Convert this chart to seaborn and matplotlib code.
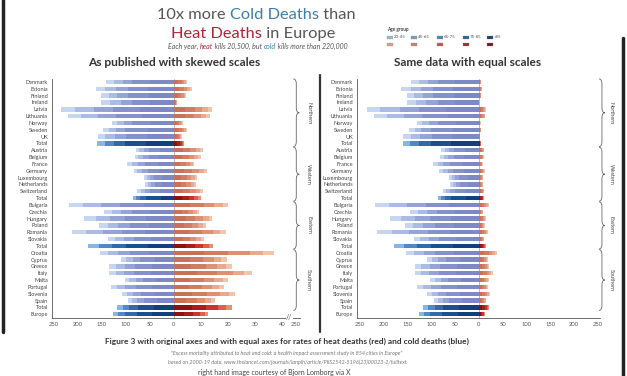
import numpy as np
import pandas as pd
import matplotlib
matplotlib.use("Agg")
import matplotlib.pyplot as plt
import matplotlib.transforms as mtransforms
from matplotlib.path import Path
from matplotlib.patches import PathPatch, Rectangle
from matplotlib.lines import Line2D
import seaborn as sns

# Data (rates per 100,000)
names = ["Denmark", "Estonia", "Finland", "Ireland", "Latvia", "Lithuania", "Norway", "Sweden", "UK", "Total",
         "Austria", "Belgium", "France", "Germany", "Luxembourg", "Netherlands", "Switzerland", "Total",
         "Bulgaria", "Czechia", "Hungary", "Poland", "Romania", "Slovakia", "Total",
         "Croatia", "Cyprus", "Greece", "Italy", "Malta", "Portugal", "Slovenia", "Spain", "Total",
         "Europe"]
region_names = ["Northern", "Western", "Eastern", "Southern"]
region_sizes = [10, 8, 7, 9]
total_rows = [9, 17, 24, 33, 34]
age_groups = ["20-45", "45-65", "65-75", "75-85", ">85"]

# cold deaths, one list per age group
cold_85plus = [50, 55, 52, 50, 70, 66, 48, 55, 56, 58, 30, 31, 34, 31, 24, 24, 29, 28,
               62, 50, 58, 52, 60, 48, 55, 52, 40, 46, 48, 38, 46, 40, 36, 42, 45]
cold_75_85 = [37, 41, 44, 37, 56, 54, 39, 46, 43, 43, 22, 22, 26, 23, 17, 16, 21, 31,
              50, 38, 44, 40, 48, 36, 45, 40, 30, 36, 36, 26, 34, 29, 26, 33, 33]
cold_65_75 = [20, 25, 22, 24, 40, 38, 18, 20, 24, 24, 11, 12, 15, 12, 9, 8, 11, 12,
              40, 22, 32, 25, 39, 21, 30, 24, 16, 21, 20, 16, 21, 16, 14, 18, 25]
cold_45_65 = [18, 22, 18, 22, 41, 35, 14, 14, 20, 19, 9, 9, 12, 10, 7, 7, 8, 8,
              37, 19, 29, 21, 36, 18, 27, 21, 13, 18, 17, 13, 17, 13, 11, 14, 13]
cold_20_45 = [17, 20, 15, 18, 29, 28, 11, 12, 16, 16, 7, 7, 10, 7, 6, 5, 7, 6,
              30, 16, 24, 18, 30, 14, 21, 17, 11, 14, 14, 10, 13, 11, 8, 11, 10]

# heat deaths, one list per age group
heat_85plus = [1.6, 2.0, 1.5, 0.4, 4.2, 4.0, 1.1, 1.6, 1.0, 1.3, 3.3, 3.0, 2.4, 3.7, 2.6, 2.5, 3.2, 3.0,
               6.0, 2.8, 4.3, 3.6, 5.7, 3.3, 4.3, 11, 5.9, 6.4, 8.7, 6.0, 5.6, 6.8, 4.6, 6.5, 3.8]
heat_75_85 = [1.2, 1.6, 1.2, 0.3, 3.5, 3.3, 0.8, 1.2, 0.7, 0.9, 2.7, 2.5, 1.9, 3.1, 2.1, 2.1, 2.7, 2.6,
              5.0, 2.4, 3.5, 3.0, 4.8, 2.8, 3.6, 9, 4.9, 5.4, 7.3, 5.0, 4.6, 5.6, 3.8, 5.4, 3.2]
heat_65_75 = [0.9, 1.3, 0.9, 0.2, 2.8, 2.7, 0.6, 0.9, 0.5, 0.7, 2.2, 2.0, 1.5, 2.5, 1.7, 1.7, 2.1, 2.0,
              4.0, 1.9, 2.8, 2.4, 3.8, 2.2, 2.9, 8, 3.9, 4.3, 5.8, 4.0, 3.7, 4.5, 3.0, 4.3, 2.5]
heat_45_65 = [0.6, 0.9, 0.6, 0.1, 2.1, 2.0, 0.5, 0.6, 0.4, 0.5, 1.6, 1.5, 1.1, 1.8, 1.3, 1.2, 1.6, 1.4,
              3.0, 1.4, 2.2, 1.7, 2.9, 1.7, 2.1, 5, 2.9, 3.2, 4.3, 3.0, 2.8, 3.4, 2.3, 3.2, 1.9]
heat_20_45 = [0.4, 0.7, 0.4, 0.0, 1.6, 1.5, 0.3, 0.4, 0.2, 0.3, 1.1, 1.0, 0.7, 1.2, 0.8, 0.8, 1.0, 1.0,
              2.0, 0.9, 1.4, 1.2, 1.9, 1.1, 1.4, 4, 1.9, 2.1, 2.9, 2.0, 1.8, 2.3, 1.5, 2.2, 1.3]

# stacking order from the zero line outwards
cold_stack = [cold_85plus, cold_75_85, cold_65_75, cold_45_65, cold_20_45]
heat_stack = [heat_85plus, heat_75_85, heat_65_75, heat_45_65, heat_20_45]

cold_country = ['#7d89c6', '#8591cb', '#95a3d6', '#abbce4', '#c6d5f0']
cold_total = ['#123f7e', '#1c4f90', '#3369aa', '#5289c4', '#86b6e2']
heat_country = ['#c9705a', '#d17d64', '#dc9176', '#e7a98f', '#f2c4ad']
heat_total = ['#8a1014', '#a81c1c', '#c6362a', '#dc5f48', '#eb8d74']
legend_blue = ['#9fbad0', '#74a1c0', '#4d87ad', '#2b6596', '#1a3f6e']
legend_red = ['#dba088', '#cf7f6a', '#c2554f', '#a12d32', '#6c1a22']

row_ids = [f"{i:02d}" for i in range(len(names))]
kinds = ["total" if i in total_rows else "country" for i in range(len(names))]

sns.set_style("white")
plt.rcParams['font.family'] = ['Lato', 'DejaVu Sans']

fig = plt.figure(figsize=(6.27, 3.76), dpi=100)
W, H = 627, 376


def px_axes(x0, y0, x1, y1):
    return fig.add_axes([x0 / W, 1 - y1 / H, (x1 - x0) / W, (y1 - y0) / H])


def draw_side(ax, stack, sign, stretch, pal_c, pal_t):
    cum = np.cumsum(np.array(stack, dtype=float), axis=0)
    for k in range(len(stack) - 1, -1, -1):
        d = pd.DataFrame({"row": row_ids, "val": sign * stretch * cum[k], "kind": kinds})
        sns.barplot(data=d, x="val", y="row", hue="kind", order=row_ids,
                    hue_order=["country", "total"],
                    palette={"country": pal_c[k], "total": pal_t[k]},
                    dodge=False, orient="y", width=0.64, saturation=1,
                    errorbar=None, legend=False, ax=ax, linewidth=0, edgecolor='none')


def brace(ax, xf, top, bot, w):
    mid = (top + bot) / 2
    h = 0.7
    verts = [(xf - w, top), (xf, top), (xf, top + h), (xf, mid - h), (xf, mid), (xf + w, mid),
             (xf, mid), (xf, mid + h), (xf, bot - h), (xf, bot), (xf - w, bot)]
    codes = [Path.MOVETO, Path.CURVE3, Path.CURVE3, Path.LINETO, Path.CURVE3, Path.CURVE3,
             Path.CURVE3, Path.CURVE3, Path.LINETO, Path.CURVE3, Path.CURVE3]
    tr = mtransforms.blended_transform_factory(ax.transAxes, ax.transData)
    ax.add_patch(PathPatch(Path(verts, codes), fill=False, lw=0.6, ec='#666666',
                           transform=tr, clip_on=False))


def style_axes(ax, brace_x, text_x, w):
    ax.set_ylim(len(names) - 0.5, -0.5)
    ax.set_yticks(range(len(names)))
    ax.set_yticklabels(names, fontsize=4.0, color='#444444')
    ax.set_xlabel("")
    ax.set_ylabel("")
    ax.tick_params(axis='both', length=2, width=0.5, color='#555555', pad=1)
    ax.tick_params(axis='x', labelsize=4.2, labelcolor='#555555')
    sns.despine(ax=ax, top=True, right=True)
    for s in ["left", "bottom"]:
        ax.spines[s].set_linewidth(0.6)
        ax.spines[s].set_color('#555555')
    ax.axvline(0, color='#999999', lw=0.5, zorder=0)
    start = 0
    for reg, n in zip(region_names, region_sizes):
        brace(ax, brace_x, start - 0.45, start + n - 1 + 0.45, w)
        tr = mtransforms.blended_transform_factory(ax.transAxes, ax.transData)
        ax.text(text_x, start + (n - 1) / 2, reg, rotation=-90, transform=tr,
                ha='center', va='center', fontsize=4.0, color='#444444')
        start += n


# Left panel: skewed scales (cold 0-250, heat 0-40 stretched, then break)
heat_stretch = 5.625
axL = px_axes(52, 78.6, 300, 317.6)
draw_side(axL, cold_stack, -1, 1.0, cold_country, cold_total)
draw_side(axL, heat_stack, 1, heat_stretch, heat_country, heat_total)
axL.set_xlim(-254, 262.5)
axL.set_xticks([-250, -200, -150, -100, -50, 0, 10 * heat_stretch, 20 * heat_stretch,
                30 * heat_stretch, 40 * heat_stretch, 254])
axL.set_xticklabels(["250", "200", "150", "100", "50", "0", "10", "20", "30", "40", "250"])
style_axes(axL, 0.985, 1.035, 0.012)
axL.text(240, len(names) - 0.5, "//", ha='center', va='center', fontsize=5, color='#555555',
         bbox=dict(fc='white', ec='none', pad=0.3), clip_on=False)

# Right panel: equal scales
axR = px_axes(357, 78.6, 600, 317.6)
draw_side(axR, cold_stack, -1, 1.0, cold_country, cold_total)
draw_side(axR, heat_stack, 1, 1.0, heat_country, heat_total)
axR.set_xlim(-256, 254)
axR.set_xticks([-250, -200, -150, -100, -50, 0, 50, 100, 150, 200, 250])
axR.set_xticklabels(["250", "200", "150", "100", "50", "0", "50", "100", "150", "200", "250"])
style_axes(axR, 1.008, 1.045, 0.012)

# Panel titles
fig.text(174 / W, 1 - 63 / H, "As published with skewed scales", ha='center', va='center',
         fontsize=8.6, fontweight='bold', color='#333333')
fig.text(468 / W, 1 - 63 / H, "Same data with equal scales", ha='center', va='center',
         fontsize=8.6, fontweight='bold', color='#333333')

renderer = fig.canvas.get_renderer()


def text_width(s, **kw):
    t1 = fig.text(0, 0, "|" + s + "|", **kw)
    t2 = fig.text(0, 0, "||", **kw)
    w = t1.get_window_extent(renderer).width - t2.get_window_extent(renderer).width
    t1.remove()
    t2.remove()
    return w


def color_line(cx, y, parts, **kw):
    widths = [text_width(s, **kw) for s, _ in parts]
    x = cx - sum(widths) / 2
    for (s, c), w in zip(parts, widths):
        fig.text(x / W, 1 - y / H, s, color=c, ha='left', va='baseline', **kw)
        x += w


grey = '#555555'
cold_c = '#3b7fa8'
heat_c = '#b02436'
color_line(256, 19, [("10x more ", grey), ("Cold Deaths", cold_c), (" than", grey)], fontsize=11.8)
color_line(253, 38, [("Heat Deaths", heat_c), (" in Europe", grey)], fontsize=11.8)
color_line(258, 49, [("Each year, ", grey), ("heat", heat_c), (" kills 20,500, but ", grey),
                     ("cold", cold_c), (" kills more than 220,000", grey)],
           fontsize=5.0, fontstyle='italic')

# Legend
fig.text(387 / W, 1 - 29.5 / H, "Age group", fontsize=3.4, fontweight='bold', color='#444444',
         ha='left', va='center')
leg_x = [387, 411, 437, 463, 487]
for lx, lab, cb, cr in zip(leg_x, age_groups, legend_blue, legend_red):
    fig.add_artist(Rectangle((lx / W, 1 - 39 / H), 6 / W, 3.5 / H, transform=fig.transFigure,
                             fc=cb, ec='#888888', lw=0.2))
    fig.text((lx + 7) / W, 1 - 37.3 / H, lab, fontsize=3.2, color='#555555', ha='left', va='center')
    fig.add_artist(Rectangle((lx / W, 1 - 46 / H), 6 / W, 3.5 / H, transform=fig.transFigure,
                             fc=cr, ec='#888888', lw=0.2))

# Caption
fig.text(287 / W, 1 - 341 / H,
         "Figure 3 with original axes and with equal axes for rates of heat deaths (red) and cold deaths (blue)",
         ha='center', va='center', fontsize=6.0, fontweight='bold', color='#333333')
fig.text(287 / W, 1 - 353 / H,
         "\"Excess mortality attributed to heat and cold: a health impact assessment study in 854 cities in Europe\"",
         ha='center', va='center', fontsize=3.9, fontstyle='italic', color='#777777')
fig.text(287 / W, 1 - 362.5 / H,
         "based on 2000-19 data, www.thelancet.com/journals/lanplh/article/PIIS2542-5196(23)00023-2/fulltext",
         ha='center', va='center', fontsize=3.9, fontstyle='italic', color='#777777')
fig.text(274 / W, 1 - 373 / H, "right hand image courtesy of Bjorn Lomborg via X",
         ha='center', va='center', fontsize=5.0, color='#444444')

# Separator and screenshot frame
fig.add_artist(Line2D([320 / W, 320 / W], [1 - 75 / H, 1 - 332 / H], color='#333333', lw=1.6,
                      transform=fig.transFigure))
fig.add_artist(Line2D([3 / W, 3 / W], [1.0, 1 - 332 / H], color='#222222', lw=2.5,
                      transform=fig.transFigure))
fig.add_artist(Line2D([623 / W, 623 / W], [1 - 38 / H, 0.0], color='#222222', lw=2.5,
                      transform=fig.transFigure))

fig.savefig("out.png", dpi=100, facecolor='white')
